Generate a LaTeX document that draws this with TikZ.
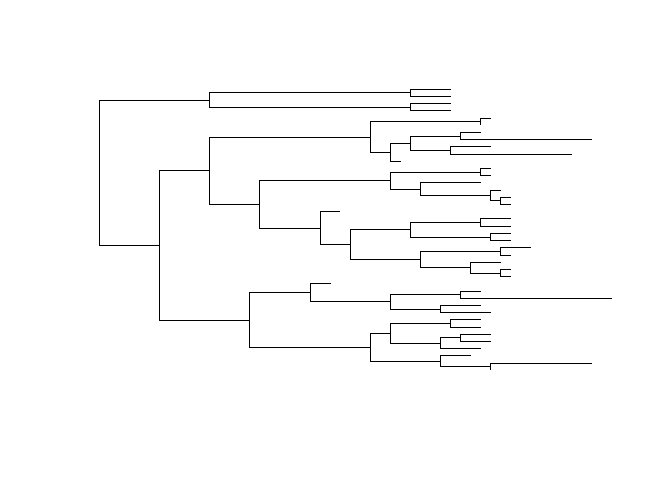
\documentclass[tikz,border=0pt]{standalone}
\begin{document}
\begin{tikzpicture}[x=1pt,y=-1pt,branch/.style={draw=black,line width=1pt}]
\useasboundingbox (0,0) rectangle (672,480);
\begin{scope}[yshift=-89.3pt,y=-7.205pt]
% internal nodes (x in px, y in tip-index units)
\coordinate (root) at (99.3,11.585);
\coordinate (A) at (209.3,1.5);
\coordinate (A1) at (410.3,0.5);
\coordinate (A2) at (410.3,2.5);
\coordinate (R2) at (159.3,21.67);
\coordinate (C) at (209.3,11.30);
\coordinate (D) at (249.3,32.03);
\coordinate (B) at (370.3,6.625);
\coordinate (E) at (259.3,15.98);
\coordinate (B1) at (480.3,4.5);
\coordinate (B2) at (390.3,8.75);
\coordinate (B3) at (410.3,7.5);
\coordinate (B4) at (460.3,6.5);
\coordinate (B5) at (450.3,8.5);
\coordinate (E1) at (390.3,12.6875);
\coordinate (E2) at (320.3,19.28125);
\coordinate (E1a) at (480.3,11.5);
\coordinate (E1b) at (420.3,13.875);
\coordinate (E1c) at (490.3,14.75);
\coordinate (E1d) at (500.3,15.5);
\coordinate (N) at (350.3,21.5625);
\coordinate (F) at (410.3,19.5);
\coordinate (F1) at (480.3,18.5);
\coordinate (F2) at (490.3,20.5);
\coordinate (G) at (420.3,23.625);
\coordinate (G1) at (500.3,22.5);
\coordinate (G2) at (470.3,24.75);
\coordinate (G3) at (500.3,25.5);
\coordinate (H) at (310.3,28.25);
\coordinate (I) at (390.3,29.5);
\coordinate (I1) at (460.3,28.5);
\coordinate (I2) at (440.3,30.5);
\coordinate (J) at (370.3,35.8125);
\coordinate (K) at (390.3,33.875);
\coordinate (K1) at (450.3,32.5);
\coordinate (L) at (440.3,35.25);
\coordinate (L1) at (460.3,34.5);
\coordinate (M) at (440.3,37.75);
\coordinate (M1) at (490.3,38.5);
% tips
\coordinate (t0) at (451,0);
\coordinate (t1) at (451,1);
\coordinate (t2) at (451,2);
\coordinate (t3) at (451,3);
\coordinate (t4) at (490.7,4);
\coordinate (t5) at (480.3,5);
\coordinate (t6) at (480.7,6);
\coordinate (t7) at (591.7,7);
\coordinate (t8) at (490.7,8);
\coordinate (t9) at (571.7,9);
\coordinate (t10) at (400.7,10);
\coordinate (t11) at (490.7,11);
\coordinate (t12) at (490.7,12);
\coordinate (t13) at (480.7,13);
\coordinate (t14) at (500.7,14);
\coordinate (t15) at (510.7,15);
\coordinate (t16) at (510.7,16);
\coordinate (t17) at (340.3,17);
\coordinate (t18) at (510.7,18);
\coordinate (t19) at (510.7,19);
\coordinate (t20) at (510.7,20);
\coordinate (t21) at (510.7,21);
\coordinate (t22) at (530.7,22);
\coordinate (t23) at (510.7,23);
\coordinate (t24) at (500.7,24);
\coordinate (t25) at (510.7,25);
\coordinate (t26) at (510.7,26);
\coordinate (t27) at (330.7,27);
\coordinate (t28) at (480.7,28);
\coordinate (t29) at (611.7,29);
\coordinate (t30) at (480.7,30);
\coordinate (t31) at (490.7,31);
\coordinate (t32) at (480.7,32);
\coordinate (t33) at (480.7,33);
\coordinate (t34) at (490.7,34);
\coordinate (t35) at (490.7,35);
\coordinate (t36) at (480.7,36);
\coordinate (t37) at (470.7,37);
\coordinate (t38) at (591.7,38);
\coordinate (t39) at (490.3,39);
\foreach \p/\c in {root/A, root/R2, A/A1, A/A2, A1/t0, A1/t1, A2/t2, A2/t3,
  R2/C, R2/D, C/B, C/E, B/B1, B/B2, B1/t4, B1/t5, B2/B3, B2/t10,
  B3/B4, B3/B5, B4/t6, B4/t7, B5/t8, B5/t9,
  E/E1, E/E2, E1/E1a, E1/E1b, E1a/t11, E1a/t12, E1b/t13, E1b/E1c,
  E1c/t14, E1c/E1d, E1d/t15, E1d/t16,
  E2/t17, E2/N, N/F, N/G, F/F1, F/F2, F1/t18, F1/t19, F2/t20, F2/t21,
  G/G1, G/G2, G1/t22, G1/t23, G2/t24, G2/G3, G3/t25, G3/t26,
  D/H, D/J, H/t27, H/I, I/I1, I/I2, I1/t28, I1/t29, I2/t30, I2/t31,
  J/K, J/M, K/K1, K/L, K1/t32, K1/t33, L/L1, L/t36, L1/t34, L1/t35,
  M/t37, M/M1, M1/t38, M1/t39}
  \draw[branch] (\p) |- (\c);
\end{scope}
\end{tikzpicture}
\end{document}
